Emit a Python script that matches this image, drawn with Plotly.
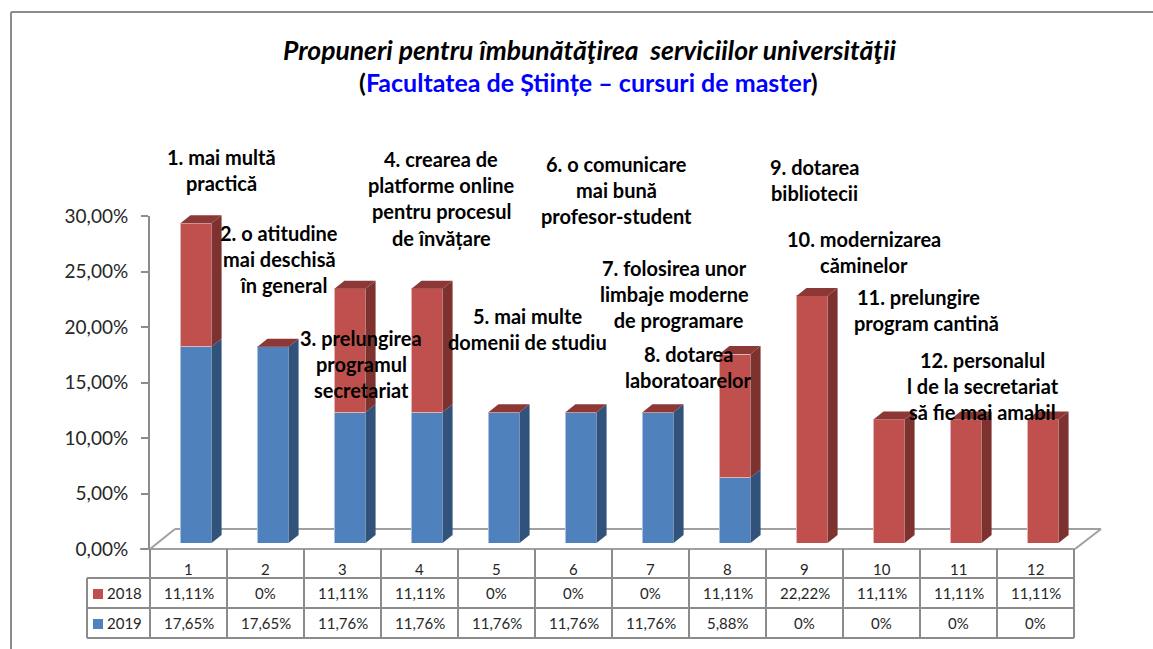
import plotly.graph_objects as go

W, H = 1153, 649

categories = [1, 2, 3, 4, 5, 6, 7, 8, 9, 10, 11, 12]
values_2018 = [11.11, 0, 11.11, 11.11, 0, 0, 0, 11.11, 22.22, 11.11, 11.11, 11.11]
values_2019 = [17.65, 17.65, 11.76, 11.76, 11.76, 11.76, 11.76, 5.88, 0, 0, 0, 0]
labels_2018 = ["11,11%", "0%", "11,11%", "11,11%", "0%", "0%", "0%", "11,11%", "22,22%", "11,11%", "11,11%", "11,11%"]
labels_2019 = ["17,65%", "17,65%", "11,76%", "11,76%", "11,76%", "11,76%", "11,76%", "5,88%", "0%", "0%", "0%", "0%"]
y_ticks = [0, 5, 10, 15, 20, 25, 30]
y_tick_labels = ["0,00%", "5,00%", "10,00%", "15,00%", "20,00%", "25,00%", "30,00%"]

# the nbsp pad lines that do not sit centred in the original
notes = [
    ["1. mai multă", "practică"],
    ["2. o atitudine", "mai deschisă", "\u00a0\u00a0în general"],
    ["3. prelungirea", "programul", "secretariat"],
    ["4. crearea de", "platforme online", "pentru procesul", "de învățare"],
    ["5. mai multe", "domenii de studiu"],
    ["6. o comunicare", "mai bună", "profesor-student"],
    ["7. folosirea unor", "limbaje moderne", "\u00a0\u00a0de programare"],
    ["8. dotarea", "laboratoarelor"],
    ["9. dotarea", "bibliotecii"],
    ["10. modernizarea", "căminelor"],
    ["11. prelungire\u00a0\u00a0\u00a0", "program cantină"],
    ["12. personalul", "l de la secretariat", "să fie mai amabil"],
]
# centre x and first row of each note, in pixels of the page
note_x = [221, 279, 361, 441, 527, 616, 674, 688, 814, 864, 926, 983]
note_y = [157, 233, 338, 159, 316, 164, 268, 354, 167, 239, 297, 360]

RED, RED_SIDE, RED_TOP = "#C0504D", "#7D3230", "#8C3836"
BLUE, BLUE_SIDE = "#4F81BD", "#31527A"
GREY = "#8C8C8C"
FONT = "Lato"


def px(x):
    return x / W


def py(y):
    return 1 - y / H


col_w = 77
x0, y0 = 150, 549
bar_w = 0.405
side_dx = 10 / col_w
side_dy = 8 / 11.1

fig = go.Figure()

# empty trace so the main axes get drawn
fig.add_trace(go.Scatter(x=[1], y=[0], mode="markers", marker=dict(opacity=0), hoverinfo="skip", showlegend=False))


def face(xs, ys, color):
    fig.add_trace(go.Scatter(x=xs, y=ys, mode="lines", fill="toself", fillcolor=color,
                             line=dict(width=0), xaxis="x2", yaxis="y2",
                             hoverinfo="skip", showlegend=False))


# bars themselves
fig.add_trace(go.Bar(x=categories, y=values_2019, name="2019", width=bar_w, xaxis="x2", yaxis="y2",
                     marker=dict(color=BLUE, line=dict(width=1, color="#A9C0DE"))))
fig.add_trace(go.Bar(x=categories, y=values_2018, name="2018", width=bar_w, xaxis="x2", yaxis="y2",
                     marker=dict(color=RED, line=dict(width=1, color="#E2B5B3"))))

# side and top faces worked out from the same values
for c, v19, v18 in zip(categories, values_2019, values_2018):
    r = c + bar_w / 2
    left = c - bar_w / 2
    total = v19 + v18
    if v19 > 0:
        face([r, r + side_dx, r + side_dx, r], [0, side_dy, v19 + side_dy, v19], BLUE_SIDE)
    if v18 > 0:
        face([r, r + side_dx, r + side_dx, r], [v19, v19 + side_dy, total + side_dy, total], RED_SIDE)
    face([left, left + side_dx, r + side_dx, r], [total, total + side_dy, total + side_dy, total], RED_TOP)

shapes = []


def line(xa, ya, xb, yb, width=2, color=GREY):
    shapes.append(dict(type="line", xref="paper", yref="paper", x0=px(xa), y0=py(ya), x1=px(xb), y1=py(yb),
                       line=dict(color=color, width=width), layer="below"))


# outer frame
line(11, 12, W, 12)
line(11, 12, 11, H)

# floor of the 3d box
line(150, 549, 175, 529, width=2, color="#A0A0A0")
line(175, 529, 1101, 529, width=2, color="#A0A0A0")
line(1101, 529, 1075, 549, width=2, color="#A0A0A0")
line(140, 549, 1075, 549, width=2, color="#A0A0A0")

# data table grid
rows = [578, 608, 638]
for i in range(len(categories) + 1):
    line(x0 + i * col_w, y0, x0 + i * col_w, 638)
for ry in rows:
    line(87, ry, x0 + 12 * col_w, ry)
line(87, 578, 87, 638)

# legend keys in the table
for top, col in [(589, RED), (619, BLUE)]:
    shapes.append(dict(type="rect", xref="paper", yref="paper", x0=px(93), x1=px(103), y0=py(top), y1=py(top + 10),
                       fillcolor=col, line=dict(width=0)))

annotations = []


def text(x, y, s, size, color="#262626", bold=False):
    if bold:
        s = "<b>" + s + "</b>"
    annotations.append(dict(text=s, xref="paper", yref="paper", x=px(x), y=py(y), xanchor="center",
                            yanchor="middle", showarrow=False, font=dict(family=FONT, size=size, color=color)))


for i, c in enumerate(categories):
    cx = x0 + (i + 0.5) * col_w
    text(cx, 569, str(c), 15)
    text(cx, 593, labels_2018[i], 15)
    text(cx, 623, labels_2019[i], 15)
text(124.5, 593, "2018", 15)
text(124.5, 623, "2019", 15)

for lines, nx, ny in zip(notes, note_x, note_y):
    for k, s in enumerate(lines):
        text(nx, ny + k * 26.2, s, 20, color="#000000", bold=True)

title_line1 = "Propuneri pentru îmbunătăţirea\u00a0 serviciilor universităţii"
title_line2 = "Facultatea de Științe – cursuri de master"
text(589, 50, "<b><i>" + title_line1 + "</i></b>", 26.5, color="#000000")
text(588, 82, "<b>(<span style='color:#0000FF'>" + title_line2 + "</span>)</b>", 25, color="#000000")

fig.update_layout(
    width=W, height=H, autosize=False,
    margin=dict(l=0, r=0, t=0, b=0, autoexpand=False),
    paper_bgcolor="white", plot_bgcolor="rgba(0,0,0,0)",
    barmode="stack", showlegend=False,
    shapes=shapes, annotations=annotations,
    font=dict(family=FONT),
    xaxis=dict(domain=[px(x0), px(x0 + 12 * col_w)], range=[0.5, 12.5], visible=False, fixedrange=True),
    yaxis=dict(domain=[py(y0), py(216)], range=[0, 30], tickmode="array", tickvals=y_ticks, ticktext=y_tick_labels,
               ticks="outside", ticklen=7, tickcolor=GREY, tickwidth=2, showline=True, linecolor=GREY, linewidth=2,
               showgrid=False, zeroline=False, ticklabelstandoff=9, fixedrange=True, automargin=False,
               tickfont=dict(family=FONT, size=19, color="#262626")),
    # bars sit on their own axes, moved a little inside the 3d floor
    xaxis2=dict(domain=[px(x0 + 7.5), px(x0 + 7.5 + 12 * col_w)], range=[0.5, 12.5], visible=False,
                anchor="y2", fixedrange=True),
    yaxis2=dict(domain=[py(543), py(543 - 30 * 11.12)], range=[0, 30], visible=False,
                anchor="x2", fixedrange=True),
)

# page margin would push the whole figure 8px in
fig.write_html("out.html", config=dict(displayModeBar=False),
               post_script="document.body.style.margin='0';document.documentElement.style.overflow='hidden';")
